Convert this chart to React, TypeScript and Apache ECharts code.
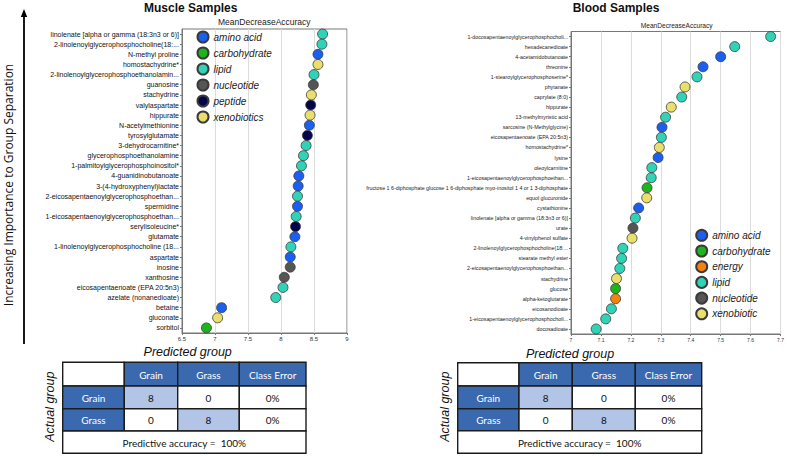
import React, { useEffect, useRef } from "react";
import * as echarts from "echarts";

// ---------- DATA ----------
const muscleMetabolites = [
  "linolenate [alpha or gamma (18:3n3 or 6)]",
  "2-linolenoylglycerophosphocholine(18:...",
  "N-methyl proline",
  "homostachydrine*",
  "2-linolenoylglycerophosphoethanolamin...",
  "guanosine",
  "stachydrine",
  "valylaspartate",
  "hippurate",
  "N-acetylmethionine",
  "tyrosylglutamate",
  "3-dehydrocarnitine*",
  "glycerophosphoethanolamine",
  "1-palmitoylglycerophosphoinositol*",
  "4-guanidinobutanoate",
  "3-(4-hydroxyphenyl)lactate",
  "2-eicosapentaenoylglycerophosphoethan...",
  "spermidine",
  "1-eicosapentaenoylglycerophosphoethan...",
  "serylisoleucine*",
  "glutamate",
  "1-linolenoylglycerophosphocholine (18...",
  "aspartate",
  "inosine",
  "xanthosine",
  "eicosapentaenoate (EPA 20:5n3)",
  "azelate (nonanedioate)",
  "betaine",
  "gluconate",
  "sorbitol",
];
const muscleValues = [
  8.63, 8.62, 8.56, 8.56, 8.5, 8.49, 8.46, 8.45, 8.44, 8.43, 8.4, 8.38, 8.34,
  8.31, 8.27, 8.26, 8.25, 8.25, 8.23, 8.22, 8.21, 8.15, 8.14, 8.14, 8.05, 8.03,
  7.92, 7.1, 7.04, 6.87,
];
const muscleClasses = [
  "lipid", "lipid", "amino acid", "xenobiotics", "lipid", "nucleotide",
  "xenobiotics", "peptide", "xenobiotics", "amino acid", "peptide", "lipid",
  "lipid", "lipid", "amino acid", "amino acid", "lipid", "amino acid", "lipid",
  "peptide", "amino acid", "lipid", "amino acid", "nucleotide", "nucleotide",
  "lipid", "lipid", "amino acid", "xenobiotics", "carbohydrate",
];
const muscleLegend = ["amino acid", "carbohydrate", "lipid", "nucleotide", "peptide", "xenobiotics"];
const muscleTicks = [6.5, 9, 0.5]; // min, max, step

const bloodMetabolites = [
  "1-docosapentaenoylglycerophosphocholi...",
  "hexadecanedioate",
  "4-acetamidobutanoate",
  "threonine",
  "1-stearoylglycerophosphoserine*",
  "phytanate",
  "caprylate (8:0)",
  "hippurate",
  "13-methylmyristic acid",
  "sarcosine (N-Methylglycine)",
  "eicosapentaenoate (EPA 20:5n3)",
  "homostachydrine*",
  "lysine",
  "oleoylcarnitine",
  "1-eicosapentaenoylglycerophosphoethan...",
  "fructose 1 6-diphosphate glucose 1 6-diphosphate myo-inositol 1 4 or 1 3-diphosphate",
  "equol glucuronide",
  "cystathionine",
  "linolenate [alpha or gamma (18:3n3 or 6)]",
  "urate",
  "4-vinylphenol sulfate",
  "2-linolenoylglycerophosphocholine(18:...",
  "stearate methyl ester",
  "2-eicosapentaenoylglycerophosphoethan...",
  "stachydrine",
  "glucose",
  "alpha-ketoglutarate",
  "eicosanodioate",
  "1-eicosapentaenoylglycerophosphocholi...",
  "docosadioate",
];
const bloodValues = [
  7.667, 7.547, 7.5, 7.441, 7.421, 7.381, 7.37, 7.335, 7.316, 7.304, 7.302,
  7.295, 7.291, 7.27, 7.268, 7.254, 7.253, 7.226, 7.215, 7.207, 7.204, 7.173,
  7.169, 7.163, 7.152, 7.149, 7.149, 7.135, 7.116, 7.084,
];
const bloodClasses = [
  "lipid", "lipid", "amino acid", "amino acid", "lipid", "xenobiotic", "lipid",
  "xenobiotic", "lipid", "amino acid", "lipid", "xenobiotic", "amino acid",
  "lipid", "lipid", "carbohydrate", "xenobiotic", "amino acid", "lipid",
  "nucleotide", "xenobiotic", "lipid", "lipid", "lipid", "xenobiotic",
  "carbohydrate", "energy", "lipid", "lipid", "lipid",
];
const bloodLegend = ["amino acid", "carbohydrate", "energy", "lipid", "nucleotide", "xenobiotic"];
const bloodTicks = [7, 7.7, 0.1];

const tableHeader = ["", "Grain", "Grass", "Class Error"];
const tableRows = [
  ["Grain", "8", "0", "0%"],
  ["Grass", "0", "8", "0%"],
];
const accuracyText = "Predictive accuracy =  100%";

// ---------- STYLE ----------
const CLASS_COLORS: Record<string, string> = {
  "amino acid": "#1a5ff2",
  carbohydrate: "#1cb51c",
  energy: "#f5820f",
  lipid: "#30d3b6",
  nucleotide: "#555555",
  peptide: "#05054d",
  xenobiotics: "#ebdf6c",
  xenobiotic: "#ebdf6c",
};
const SANS = "'Liberation Sans', Arial, sans-serif";
const TABLE_FONT = "Lato, 'Open Sans', sans-serif";
const BLUE = "#3a69b0";
const LIGHT = "#b2c5e6";

function buildSeries(legend: string[], classes: string[], values: number[], idx: number) {
  return legend.map((cls) => ({
    type: "scatter",
    name: cls,
    xAxisIndex: idx,
    yAxisIndex: idx,
    symbolSize: 10,
    itemStyle: { color: CLASS_COLORS[cls], borderColor: "#3a3a3a", borderWidth: 0.8, opacity: 1 },
    data: values
      .map((v, i) => (classes[i] === cls ? [v, i] : null))
      .filter((d) => d !== null),
  }));
}

function tableGraphics(cols: number[], rows: number[]) {
  const els: any[] = [];
  const txt = (t: string, x: number, y: number, fill: string) => ({
    type: "text",
    z: 10,
    style: {
      text: t,
      x,
      y,
      fill,
      align: "center",
      verticalAlign: "middle",
      font: `10px ${TABLE_FONT}`,
    },
  });
  const cell = (c0: number, c1: number, r: number, fill: string) => ({
    type: "rect",
    z: 5,
    shape: { x: cols[c0], y: rows[r], width: cols[c1] - cols[c0], height: rows[r + 1] - rows[r] },
    style: { fill, stroke: "#1c1c1c", lineWidth: 1.4 },
  });
  tableHeader.forEach((h, c) => {
    els.push(cell(c, c + 1, 0, c === 0 ? "#ffffff" : BLUE));
    if (h) els.push(txt(h, (cols[c] + cols[c + 1]) / 2, (rows[0] + rows[1]) / 2 + 0.5, "#ffffff"));
  });
  tableRows.forEach((row, r) => {
    row.forEach((v, c) => {
      const fill = c === 0 ? BLUE : c === r + 1 ? LIGHT : "#ffffff";
      els.push(cell(c, c + 1, r + 1, fill));
      els.push(
        txt(v, (cols[c] + cols[c + 1]) / 2, (rows[r + 1] + rows[r + 2]) / 2 + 0.5, c === 0 ? "#ffffff" : "#111111")
      );
    });
  });
  els.push(cell(0, 4, 3, "#ffffff"));
  els.push(txt(accuracyText, (cols[0] + cols[4]) / 2, (rows[3] + rows[4]) / 2 + 0.5, "#111111"));
  return els;
}

function label(text: string, x: number, y: number, font: string, rotation = 0, fill = "#111") {
  return {
    type: "text",
    x,
    y,
    rotation,
    z: 10,
    style: { text, x: 0, y: 0, fill, font, align: "center", verticalAlign: "middle" },
  };
}

export default function App() {
  const ref = useRef<HTMLDivElement>(null);

  useEffect(() => {
    if (!ref.current) return;
    const chart = echarts.init(ref.current, undefined, { renderer: "svg" });

    const axisLineStyle = { color: "#777", width: 1 };
    const legendCommon = {
      orient: "vertical",
      icon: "circle",
      itemWidth: 11,
      itemHeight: 11,
      padding: 0,
      selectedMode: false,
      textStyle: { fontSize: 10, fontStyle: "italic", fontFamily: SANS, color: "#222" },
    };

    const option: any = {
      animation: false,
      backgroundColor: "#ffffff",
      grid: [
        { left: 182, top: 29, width: 165, height: 304, show: true, borderColor: "#777", borderWidth: 1, backgroundColor: "transparent" },
        { left: 571, top: 31.5, width: 210, height: 302.5, show: true, borderColor: "#777", borderWidth: 1, backgroundColor: "transparent" },
      ],
      xAxis: [
        {
          gridIndex: 0,
          type: "value",
          min: muscleTicks[0],
          max: muscleTicks[1],
          interval: muscleTicks[2],
          axisLine: { show: true, lineStyle: axisLineStyle },
          axisTick: { show: true, length: 2, lineStyle: axisLineStyle },
          axisLabel: { fontSize: 6, fontFamily: SANS, color: "#333", margin: 3 },
          splitLine: { show: true, lineStyle: { color: "#dcdcdc", width: 1 } },
        },
        {
          gridIndex: 1,
          type: "value",
          min: bloodTicks[0],
          max: bloodTicks[1],
          interval: bloodTicks[2],
          axisLine: { show: true, lineStyle: axisLineStyle },
          axisTick: { show: true, length: 2, lineStyle: axisLineStyle },
          axisLabel: { fontSize: 5, fontFamily: SANS, color: "#333", margin: 3 },
          splitLine: { show: true, lineStyle: { color: "#dcdcdc", width: 1 } },
        },
      ],
      yAxis: [
        {
          gridIndex: 0,
          type: "category",
          inverse: true,
          data: muscleMetabolites,
          axisLine: { show: true, lineStyle: axisLineStyle },
          axisTick: { show: true, length: 2, alignWithLabel: true, lineStyle: axisLineStyle },
          axisLabel: { interval: 0, fontSize: 7, fontFamily: SANS, color: "#111", margin: 3 },
          splitLine: { show: false },
        },
        {
          gridIndex: 1,
          type: "category",
          inverse: true,
          data: bloodMetabolites,
          axisLine: { show: true, lineStyle: axisLineStyle },
          axisTick: { show: true, length: 2, alignWithLabel: true, lineStyle: axisLineStyle },
          axisLabel: { interval: 0, fontSize: 5.3, fontFamily: SANS, color: "#222", margin: 3 },
          splitLine: { show: false },
        },
      ],
      legend: [
        { ...legendCommon, data: muscleLegend, left: 196.5, top: 30.5, itemGap: 3 },
        { ...legendCommon, data: bloodLegend, left: 695.2, top: 228.8, itemGap: 2.7 },
      ],
      series: [
        ...buildSeries(muscleLegend, muscleClasses, muscleValues, 0),
        ...buildSeries(bloodLegend, bloodClasses, bloodValues, 1),
      ],
      graphic: [
        label("Muscle Samples", 190.7, 7.5, `bold 12px ${SANS}`),
        label("Blood Samples", 616, 7.5, `bold 12px ${SANS}`),
        label("MeanDecreaseAccuracy", 264.3, 21.7, `8.5px ${SANS}`, 0, "#222"),
        label("MeanDecreaseAccuracy", 676.7, 25, `6.6px ${SANS}`, 0, "#222"),
        label("Predicted group", 187.7, 352, `italic 12.5px ${SANS}`),
        label("Predicted group", 570, 354.3, `italic 12.5px ${SANS}`),
        label("Actual group", 50, 406.7, `italic 12.5px ${SANS}`, Math.PI / 2),
        label("Actual group", 445, 406.7, `italic 12.5px ${SANS}`, Math.PI / 2),
        label("Increasing Importance to Group Separation", 8.5, 185, `12px 'Open Sans', sans-serif`, Math.PI / 2),
        {
          type: "line",
          shape: { x1: 24, y1: 15, x2: 24, y2: 344 },
          style: { stroke: "#000", lineWidth: 1.8 },
        },
        {
          type: "polygon",
          shape: { points: [[24, 9], [20.8, 17], [27.2, 17]] },
          style: { fill: "#000" },
        },
        ...tableGraphics([62.7, 124.3, 177.7, 239.3, 306], [362.3, 386, 408.7, 431, 453.3]),
        ...tableGraphics([457.7, 519, 572.3, 635.3, 701.7], [362.7, 386, 408.7, 430.7, 453.3]),
      ],
    };

    chart.setOption(option);
    return () => chart.dispose();
  }, []);

  return (
    <div
      ref={ref}
      style={{ position: "absolute", left: 0, top: 0, width: 787, height: 456 }}
    />
  );
}
